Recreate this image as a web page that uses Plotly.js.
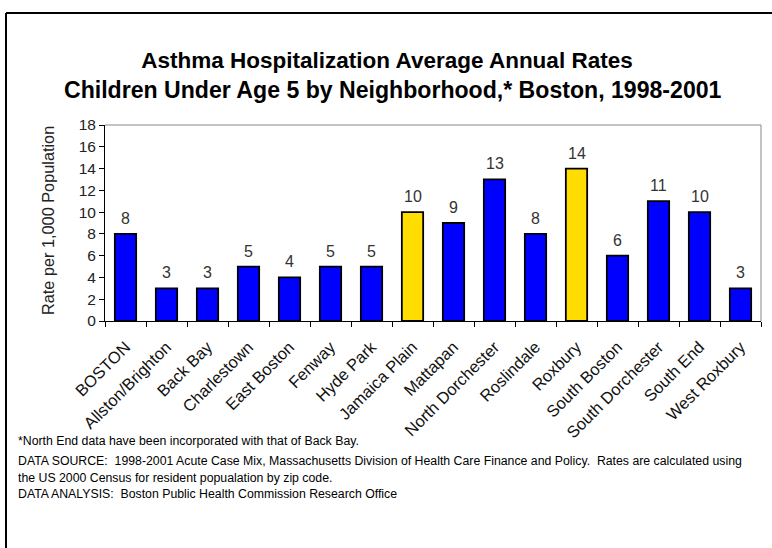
<!DOCTYPE html>
<html>
<head>
<meta charset="utf-8">
<script src="https://cdn.plot.ly/plotly-3.0.1.min.js"></script>
<style>html,body{margin:0;padding:0;background:#fff;}#chart{width:772px;height:548px;}</style>
</head>
<body>
<div id="chart"></div>
<script>
const neighborhoods = ["BOSTON","Allston/Brighton","Back Bay","Charlestown","East Boston","Fenway","Hyde Park","Jamaica Plain","Mattapan","North Dorchester","Roslindale","Roxbury","South Boston","South Dorchester","South End","West Roxbury"];
const rates = [8,3,3,5,4,5,5,10,9,13,8,14,6,11,10,3];
const highlighted = ["Jamaica Plain","Roxbury"];
const yTicks = [0,2,4,6,8,10,12,14,16,18];
const titleLine1 = "Asthma Hospitalization Average Annual Rates";
const titleLine2 = "Children Under Age 5 by Neighborhood,* Boston, 1998-2001";
const yTitle = "Rate per 1,000 Population";
const footnotes = [
  "*North End data have been incorporated with that of Back Bay.",
  "DATA SOURCE:  1998-2001 Acute Case Mix, Massachusetts Division of Health Care Finance and Policy.  Rates are calculated using",
  "the US 2000 Census for resident popualation by zip code.",
  "DATA ANALYSIS:  Boston Public Health Commission Research Office"
];

const W = 772, H = 548;
const plotL = 105, plotR = 761, plotT = 125, plotB = 321;
const pw = plotR - plotL, ph = plotB - plotT;
const px = x => (x - plotL) / pw;
const py = y => (plotB - y) / ph;

const colors = neighborhoods.map(n => highlighted.includes(n) ? "#FFDD00" : "#0000FF");
const font = "Arial, 'Liberation Sans', sans-serif";

const trace = {
  type: "bar",
  x: neighborhoods,
  y: rates,
  marker: {color: colors, line: {color: "#000", width: 1.8}},
  width: 0.52,
  hoverinfo: "x+y"
};

const annotations = neighborhoods.map((n, i) => ({
  x: n, y: rates[i], xref: "x", yref: "y",
  text: String(rates[i]), showarrow: false,
  yanchor: "bottom", yshift: 5,
  font: {family: font, size: 16, color: "#333"}
}));

annotations.push({
  xref: "paper", yref: "paper", x: px(37), y: py(221),
  text: yTitle, textangle: -90, showarrow: false,
  font: {family: font, size: 16.3, color: "#222"}
});
annotations.push({
  xref: "paper", yref: "paper", x: px(393), y: py(90),
  xanchor: "center", yanchor: "middle",
  text: "<b>" + titleLine2 + "</b>", showarrow: false,
  font: {family: font, size: 23.1, color: "#000"}
});
const footY = [441, 461, 478, 494];
footnotes.forEach((t, i) => annotations.push({
  xref: "paper", yref: "paper", x: px(16), y: py(footY[i]),
  xanchor: "left", yanchor: "middle", showarrow: false,
  text: t, font: {family: font, size: 12.3, color: "#000"}
}));

const shapes = [
  {type: "line", xref: "paper", yref: "paper", x0: px(6), x1: px(790), y0: py(13), y1: py(13), line: {color: "#000", width: 2}},
  {type: "line", xref: "paper", yref: "paper", x0: px(6), x1: px(6), y0: py(13), y1: py(560), line: {color: "#000", width: 2}},
  {type: "line", xref: "paper", yref: "paper", x0: 0, x1: 1, y0: 1, y1: 1, line: {color: "#888", width: 1}},
  {type: "line", xref: "paper", yref: "paper", x0: 1, x1: 1, y0: 0, y1: 1, line: {color: "#888", width: 1}}
];

const layout = {
  width: W, height: H,
  margin: {l: plotL, r: W - plotR, t: plotT, b: H - plotB},
  paper_bgcolor: "#fff", plot_bgcolor: "#fff",
  showlegend: false,
  title: {
    text: "<b>" + titleLine1 + "</b>",
    x: 387 / W, xanchor: "center", xref: "container",
    y: 1 - 60 / H, yanchor: "middle", yref: "container",
    font: {family: font, size: 22.5, color: "#000"}
  },
  xaxis: {
    type: "category",
    showline: true, linecolor: "#000", linewidth: 1,
    ticks: "outside", tickson: "boundaries", ticklen: 5, tickcolor: "#000",
    tickangle: -45, ticklabelstandoff: 9,
    tickfont: {family: font, size: 16.5, color: "#111"},
    showgrid: false, zeroline: false, fixedrange: true
  },
  yaxis: {
    range: [0, 18],
    tickvals: yTicks,
    showline: true, linecolor: "#000", linewidth: 1,
    ticks: "outside", ticklen: 5, tickcolor: "#000",
    tickfont: {family: font, size: 15.5, color: "#222"},
    showgrid: false, zeroline: false, fixedrange: true
  },
  annotations: annotations,
  shapes: shapes
};

Plotly.newPlot("chart", [trace], layout, {displayModeBar: false, staticPlot: true});
</script>
</body>
</html>
